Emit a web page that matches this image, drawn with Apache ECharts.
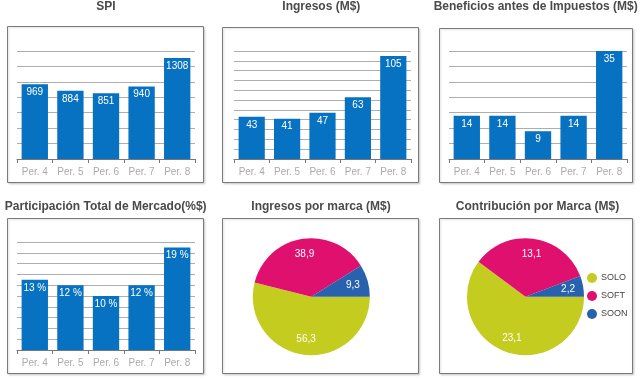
<!DOCTYPE html>
<html><head><meta charset="utf-8">
<script src="https://cdn.jsdelivr.net/npm/echarts@6/dist/echarts.min.js"></script>
<style>html,body{margin:0;padding:0;background:#fff}#c{width:642px;height:379px}</style>
</head><body><div id="c"></div>
<script>
const periods = ['Per. 4','Per. 5','Per. 6','Per. 7','Per. 8'];
const spi = [969, 884, 851, 940, 1308];
const ingresos = [43, 41, 47, 63, 105];
const beneficios = [14, 14, 9, 14, 35];
const participacion = [13, 12, 10, 12, 19];
const brands = ['SOLO','SOFT','SOON'];
const ingresosMarca = [56.3, 38.9, 9.3];
const contribMarca = [23.1, 13.1, 2.2];
const titles = ['SPI','Ingresos (M$)','Beneficios antes de Impuestos (M$)','Participación Total de Mercado(%$)','Ingresos por marca (M$)','Contribución por Marca (M$)'];

const FONT = '"Liberation Sans", Arial, sans-serif';
const BLUE = '#0872c2';
const pieColors = ['#c4cc20','#e0106e','#2861ad'];

const chart = echarts.init(document.getElementById('c'), null, {renderer:'canvas'});

const grids = [
  {left:17, top:51, width:178, height:108},
  {left:234, top:51, width:177, height:108},
  {left:449, top:51, width:178, height:108},
  {left:17, top:242, width:178, height:108}
];
const yCfg = [{max:1400, interval:200},{max:110, interval:10},{max:35, interval:5},{max:20, interval:2}];
const barData = [spi, ingresos, beneficios, participacion];
const fmts = [v=>v, v=>v, v=>v, v=>v+' %'];

const xAxes = grids.map((g,i)=>({
  type:'category', gridIndex:i, data:periods,
  axisLine:{lineStyle:{color:'#777', width:1}},
  axisTick:{show:true, length:4, lineStyle:{color:'#777'}},
  axisLabel:{color:'#aaa', fontSize:10, fontFamily:FONT, margin:8}
}));
const yAxes = grids.map((g,i)=>({
  type:'value', gridIndex:i, min:0, max:yCfg[i].max, interval:yCfg[i].interval,
  axisLine:{show:false}, axisTick:{show:false}, axisLabel:{show:false},
  splitLine:{lineStyle:{color:'#adadad', width:1}}
}));
const series = barData.map((d,i)=>({
  type:'bar', xAxisIndex:i, yAxisIndex:i, data:d, barWidth:'74%',
  itemStyle:{color:BLUE},
  label:{show:true, position:'insideTop', distance:3, color:'#fff', fontSize:10, fontFamily:FONT,
    formatter:p=>fmts[i](p.value)}
}));

function pieData(vals){ return brands.map((b,k)=>({name:b, value:vals[k], itemStyle:{color:pieColors[k]}})); }
const pies = [{c:[311.3,296.7], vals:ingresosMarca},{c:[525.5,296.7], vals:contribMarca}];
pies.forEach(p=>{
  series.push({type:'pie', center:p.c, radius:[0,58.5], startAngle:0, clockwise:true,
    data:pieData(p.vals), label:{show:false}, labelLine:{show:false}, silent:true, animation:false});
  series.push({type:'pie', center:p.c, radius:[22,58.5], startAngle:0, clockwise:true,
    data:pieData(p.vals).map(d=>({name:d.name, value:d.value, itemStyle:{color:'rgba(0,0,0,0)'}})),
    label:{show:true, position:'inside', color:'#fff', fontSize:10, fontFamily:FONT,
      formatter:q=>String(q.value).replace('.',',')},
    labelLine:{show:false}, silent:true, animation:false, legendHoverLink:false});
});

const titleX = [106, 321.3, 535.7, 105.7, 321, 537.5];
const titleTop = [1, 1, 1, 201, 201, 201];
const title = titles.map((t,i)=>({text:t, left:titleX[i], top:titleTop[i], textAlign:'center', padding:0,
  textStyle:{color:'#4a4a4a', fontSize:12, fontWeight:'bold', fontFamily:FONT}}));

const boxes = [[7,26,196,156],[222,27,196,155],[439,28,193,154],[7,218,196,155],[222,218,196,155],[439,218,193,155]];
const graphic = boxes.map(b=>({type:'rect', shape:{x:b[0]+0.5, y:b[1]+0.5, width:b[2], height:b[3]},
  style:{fill:'#fff', stroke:'#7a7a7a', lineWidth:1, shadowBlur:2, shadowColor:'rgba(0,0,0,0.15)', shadowOffsetX:1, shadowOffsetY:1}, z:-10, silent:true}));

chart.setOption({
  backgroundColor:'#fff',
  animation:false,
  title:title,
  graphic:{elements:graphic},
  grid:grids.map(g=>Object.assign({containLabel:false}, g)),
  xAxis:xAxes, yAxis:yAxes,
  legend:{data:brands, orient:'vertical', left:587, top:273, padding:0, itemGap:8, itemWidth:10, itemHeight:10, icon:'circle',
    textStyle:{color:'#444', fontSize:9, fontFamily:FONT, padding:[0,0,0,-1]}, selectedMode:false},
  series:series
});
</script></body></html>
